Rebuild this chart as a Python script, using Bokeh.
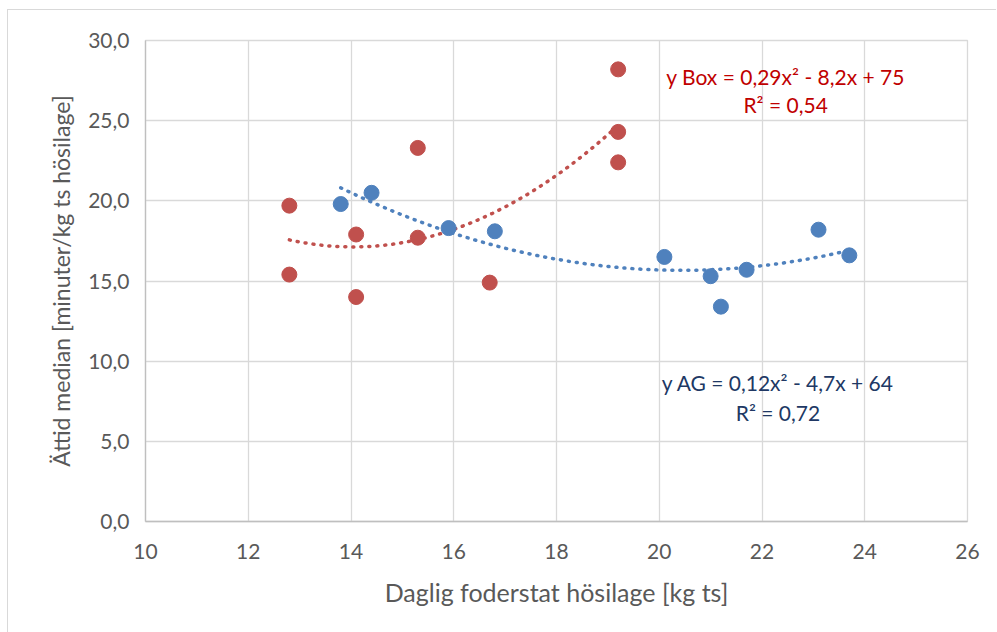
import numpy as np
from bokeh.plotting import figure
from bokeh.models import Range1d, FixedTicker, CustomJSTickFormatter, Label
from bokeh.layouts import column
from bokeh.embed import file_html
from bokeh.resources import INLINE

# ---- data ----
ag_x = [13.8, 14.4, 15.9, 16.8, 20.1, 21.0, 21.2, 21.7, 23.1, 23.7]
ag_y = [19.8, 20.5, 18.3, 18.1, 16.5, 15.3, 13.4, 15.7, 18.2, 16.6]
box_x = [12.8, 12.8, 14.1, 14.1, 15.3, 15.3, 16.7, 19.2, 19.2, 19.2]
box_y = [19.7, 15.4, 17.9, 14.0, 23.3, 17.7, 14.9, 28.2, 24.3, 22.4]
x_ticks = [10, 12, 14, 16, 18, 20, 22, 24, 26]
y_ticks = [0, 5, 10, 15, 20, 25, 30]
box_eq = ["y Box = 0,29x² - 8,2x + 75", "R² = 0,54"]
ag_eq = ["y AG = 0,12x² - 4,7x + 64", "R² = 0,72"]
box_eq_pos = (22.46, [27.76, 26.01])
ag_eq_pos = (22.31, [8.67, 6.80])
x_title = "Daglig foderstat hösilage [kg ts]"
y_title = "Ättid median [minuter/kg ts hösilage]"

BLUE = "#4f81bd"
RED = "#c0504d"
FONT = "Lato"

p = figure(width=988, height=622, output_backend="svg", toolbar_location=None,
           x_range=Range1d(10, 26), y_range=Range1d(0, 30),
           min_border_left=137, min_border_right=29, min_border_top=30, min_border_bottom=111)

p.outline_line_color = "#d9d9d9"
p.outline_line_width = 1.3
for g in (p.xgrid[0], p.ygrid[0]):
    g.grid_line_color = "#d9d9d9"
    g.grid_line_width = 1.3

p.xaxis.ticker = FixedTicker(ticks=x_ticks)
p.yaxis.ticker = FixedTicker(ticks=y_ticks)
p.yaxis.formatter = CustomJSTickFormatter(code="return tick.toFixed(1).replace('.', ',');")
p.xaxis.formatter = CustomJSTickFormatter(code="return tick.toFixed(0);")
for ax in (p.xaxis[0], p.yaxis[0]):
    ax.axis_line_color = "#bfbfbf"
    ax.axis_line_width = 1.3
    ax.major_tick_line_color = None
    ax.minor_tick_line_color = None
    ax.major_tick_out = 0
    ax.major_tick_in = 0
    ax.major_label_text_font = FONT
    ax.major_label_text_font_size = "21px"
    ax.major_label_text_color = "#595959"
    ax.axis_label_text_font = FONT
    ax.axis_label_text_font_style = "normal"
    ax.axis_label_text_color = "#595959"
p.xaxis.axis_label_text_font_size = "25px"
p.yaxis.axis_label_text_font_size = "23px"
p.xaxis.major_label_standoff = 22
p.yaxis.major_label_standoff = 16
p.xaxis.axis_label = x_title
p.yaxis.axis_label = y_title
p.xaxis.axis_label_standoff = 15
p.yaxis.axis_label_standoff = 10

# trendlines (2nd order polynomial fit of the data)
for xs, ys, col in ((ag_x, ag_y, BLUE), (box_x, box_y, RED)):
    c = np.polyfit(xs, ys, 2)
    tx = np.linspace(min(xs), max(xs), 200)
    p.line(tx, np.polyval(c, tx), line_color=col, line_width=3.5,
           line_dash="1 7", line_cap="round")

p.scatter(ag_x, ag_y, size=15, fill_color=BLUE, line_color=BLUE)
p.scatter(box_x, box_y, size=15, fill_color=RED, line_color=RED)

for texts, (tx, tys), col in ((box_eq, box_eq_pos, "#c00000"), (ag_eq, ag_eq_pos, "#203864")):
    for t, ty in zip(texts, tys):
        p.add_layout(Label(x=tx, y=ty, text=t, text_align="center", text_baseline="middle",
                           text_font=FONT, text_font_size="21px", text_color=col))

layout = column(p, styles={"border-left": "1px solid #d9d9d9", "border-top": "1px solid #d9d9d9",
                           "margin-top": "9px", "margin-left": "7px"})

open("out.html", "w").write(file_html(layout, INLINE))
